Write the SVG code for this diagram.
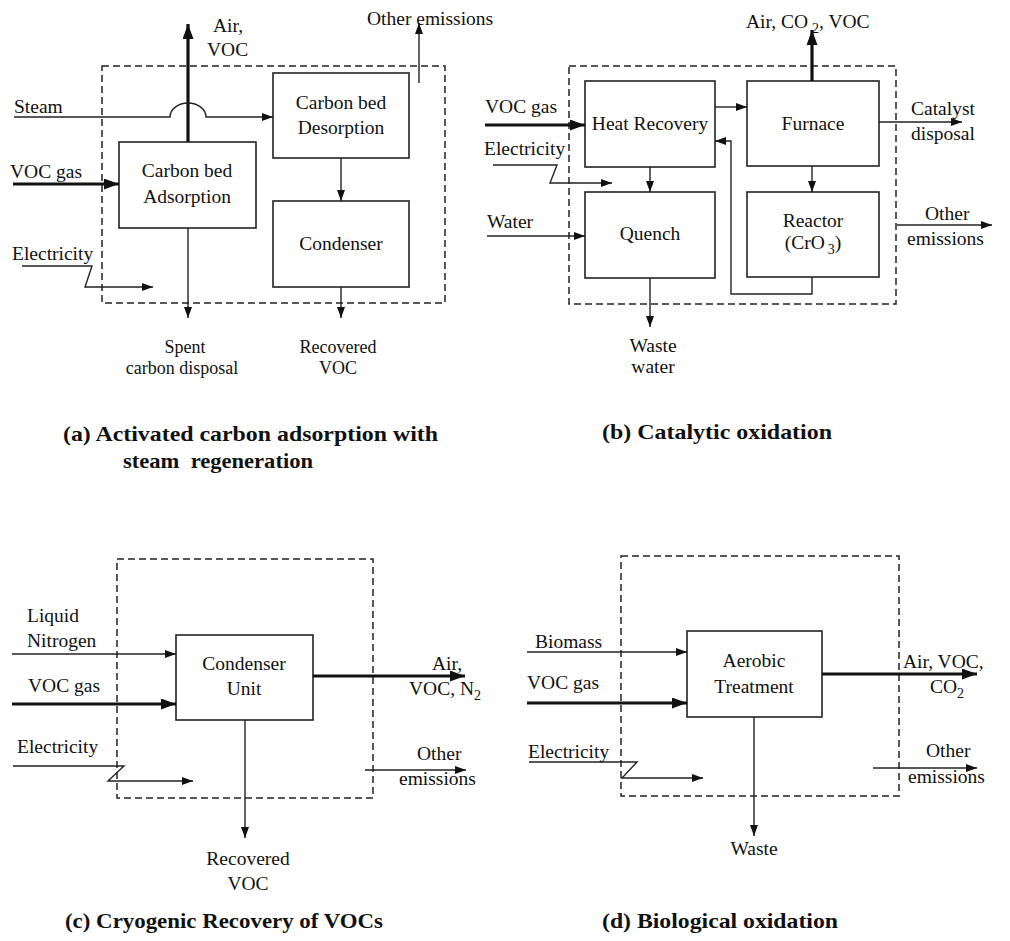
<svg xmlns="http://www.w3.org/2000/svg" width="1010" height="941" viewBox="0 0 1010 941">
<style>
text{font-family:"Liberation Serif","Times New Roman",serif;font-size:19.5px;fill:#111}
.c{text-anchor:middle}
.sm{font-size:18px}
.cap{font-weight:bold;font-size:21px}
.box{fill:#fff;stroke:#222;stroke-width:1.6}
.dash{fill:none;stroke:#222;stroke-width:1.5;stroke-dasharray:7 4}
.thin{fill:none;stroke:#222;stroke-width:1.4}
.thick{fill:none;stroke:#111;stroke-width:3.2}
.ta{marker-end:url(#ah)}
.tk{marker-end:url(#ahk)}
</style>
<defs>
<marker id="ah" markerUnits="userSpaceOnUse" markerWidth="12" markerHeight="10" refX="11" refY="4" orient="auto"><path d="M0,0 L11,4 L0,8 Z" fill="#111"/></marker>
<marker id="ahk" markerUnits="userSpaceOnUse" markerWidth="16" markerHeight="12" refX="15" refY="5.5" orient="auto"><path d="M0,0 L15,5.5 L0,11 Z" fill="#111"/></marker>
</defs>
<rect width="1010" height="941" fill="#fff"/>

<!-- Panel a -->
<g id="a-boundary"><rect class="dash" x="102" y="66" width="343" height="237"/></g>
<g id="a-adsorption"><rect class="box" x="119" y="142" width="137" height="86"/><text class="c" x="187" y="177">Carbon bed</text><text class="c" x="187" y="203">Adsorption</text></g>
<g id="a-desorption"><rect class="box" x="273" y="73" width="136" height="85"/><text class="c" x="341" y="109">Carbon bed</text><text class="c" x="341" y="134">Desorption</text></g>
<g id="a-condenser"><rect class="box" x="273" y="201" width="136" height="86"/><text class="c" x="341" y="250">Condenser</text></g>
<g id="a-labels">
<text x="213" y="32">Air,</text><text x="207" y="56">VOC</text>
<text x="367" y="25">Other emissions</text>
<text x="14" y="113">Steam</text>
<text x="10" y="178">VOC gas</text>
<text x="12" y="260">Electricity</text>
<text class="c sm" x="185" y="353">Spent</text><text class="c sm" x="182" y="374">carbon disposal</text>
<text class="c sm" x="338" y="353">Recovered</text><text class="c sm" x="338" y="374">VOC</text>
</g>

<!-- Panel b -->
<g id="b-boundary"><rect class="dash" x="569" y="66" width="327" height="238"/></g>
<g id="b-heat-recovery"><rect class="box" x="585" y="81" width="130" height="86"/><text class="c" x="650" y="130">Heat Recovery</text></g>
<g id="b-furnace"><rect class="box" x="747" y="81" width="132" height="85"/><text class="c" x="813" y="130">Furnace</text></g>
<g id="b-quench"><rect class="box" x="585" y="192" width="130" height="86"/><text class="c" x="650" y="240">Quench</text></g>
<g id="b-reactor"><rect class="box" x="747" y="192" width="132" height="85"/><text class="c" x="813" y="227">Reactor</text><text class="c" x="813" y="249">(CrO<tspan dx="3" dy="5" font-size="14">3</tspan><tspan dy="-5">)</tspan></text></g>
<g id="b-labels">
<text x="746" y="28">Air, CO<tspan dx="4" dy="5" font-size="14">2</tspan><tspan dy="-5">, VOC</tspan></text>
<text x="485" y="113">VOC gas</text>
<text x="484" y="155">Electricity</text>
<text x="487" y="228">Water</text>
<text x="911" y="115">Catalyst</text><text x="911" y="140">disposal</text>
<text x="925" y="220">Other</text><text x="907" y="245">emissions</text>
<text class="c" x="653" y="352">Waste</text><text class="c" x="653" y="373">water</text>
</g>

<!-- Panel c -->
<g id="c-boundary"><rect class="dash" x="117" y="559" width="256" height="239"/></g>
<g id="c-condenser-unit"><rect class="box" x="176" y="635" width="137" height="85"/><text class="c" x="244" y="670">Condenser</text><text class="c" x="244" y="695">Unit</text></g>
<g id="c-labels">
<text x="27" y="622">Liquid</text><text x="27" y="647">Nitrogen</text>
<text x="28" y="692">VOC gas</text>
<text x="17" y="753">Electricity</text>
<text x="432" y="670">Air,</text><text x="409" y="695">VOC, N<tspan dy="5" font-size="14">2</tspan></text>
<text x="417" y="760">Other</text><text x="399" y="785">emissions</text>
<text class="c" x="248" y="865">Recovered</text><text class="c" x="248" y="890">VOC</text>
</g>

<!-- Panel d -->
<g id="d-boundary"><rect class="dash" x="621" y="556" width="278" height="240"/></g>
<g id="d-aerobic"><rect class="box" x="687" y="631" width="135" height="86"/><text class="c" x="754" y="667">Aerobic</text><text class="c" x="754" y="693">Treatment</text></g>
<g id="d-labels">
<text x="535" y="648">Biomass</text>
<text x="527" y="689">VOC gas</text>
<text x="528" y="758">Electricity</text>
<text x="903" y="668">Air, VOC,</text><text x="930" y="693">CO<tspan dy="5" font-size="14">2</tspan></text>
<text x="926" y="757">Other</text><text x="908" y="783">emissions</text>
<text class="c" x="754" y="855">Waste</text>
</g>

<!-- Captions -->
<g id="captions">
<text class="cap" x="63" y="441" textLength="375" lengthAdjust="spacingAndGlyphs">(a) Activated carbon adsorption with</text>
<text class="cap" x="123" y="468" textLength="190" lengthAdjust="spacingAndGlyphs" xml:space="preserve">steam  regeneration</text>
<text class="cap" x="602" y="439" textLength="230" lengthAdjust="spacingAndGlyphs">(b) Catalytic oxidation</text>
<text class="cap" x="65" y="928" textLength="318" lengthAdjust="spacingAndGlyphs">(c) Cryogenic Recovery of VOCs</text>
<text class="cap" x="602" y="928" textLength="236" lengthAdjust="spacingAndGlyphs">(d) Biological oxidation</text>
</g>

<g id="connectors">
<!-- a -->
<path class="thick tk" d="M188,142 V24"/>
<path class="thin ta" d="M14,117 H170 A18,14 0 0 1 206,117 H273"/>
<path class="thick tk" d="M13,184 H119"/>
<path class="thin ta" d="M22,266 H92 L85,287 H153"/>
<path class="thin ta" d="M188,228 V318"/>
<path class="thin ta" d="M341,158 V201"/>
<path class="thin ta" d="M341,287 V318"/>
<path class="thin ta" d="M419,83 V23"/>
<!-- b -->
<path class="thick tk" d="M812,81 V30"/>
<path class="thin ta" d="M715,107 H747"/>
<path class="thin ta" d="M812,277 V294 H731 V141 H715"/>
<path class="thin ta" d="M650,167 V192"/>
<path class="thin ta" d="M812,166 V192"/>
<path class="thin ta" d="M650,278 V327"/>
<path class="thick tk" d="M485,125 H585"/>
<path class="thin ta" d="M493,165 H557 L550,183 H612"/>
<path class="thin ta" d="M487,236 H585"/>
<path class="thin ta" d="M879,122 H962"/>
<path class="thin ta" d="M897,225 H992"/>
<!-- c -->
<path class="thin ta" d="M12,654 H176"/>
<path class="thick tk" d="M12,704 H176"/>
<path class="thin ta" d="M13,766 H124 L108,781 H193"/>
<path class="thick tk" d="M313,676 H465"/>
<path class="thin ta" d="M365,770 H466"/>
<path class="thin ta" d="M245,720 V838"/>
<!-- d -->
<path class="thin ta" d="M527,652 H687"/>
<path class="thick tk" d="M527,703 H687"/>
<path class="thin ta" d="M529,762 H637 L622,778 H703"/>
<path class="thick tk" d="M822,674 H977"/>
<path class="thin ta" d="M873,768 H977"/>
<path class="thin ta" d="M754,717 V836"/>
</g>
</svg>
